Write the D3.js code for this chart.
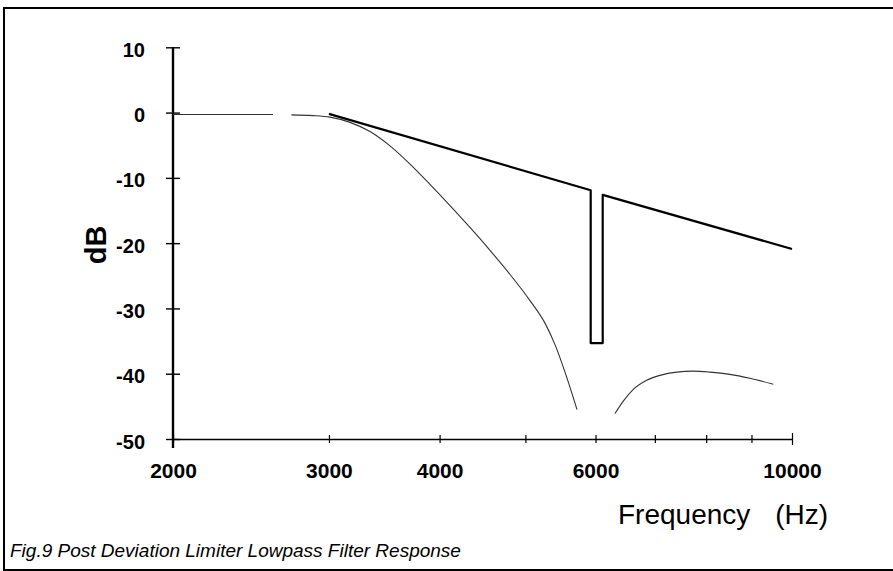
<!DOCTYPE html>
<html>
<head>
<meta charset="utf-8">
<script src="https://cdn.jsdelivr.net/npm/d3@7"></script>
<style>
body{margin:0;background:#fff;}
svg{display:block;font-family:'Liberation Sans',Arial,Helvetica,sans-serif;}
</style>
</head>
<body>
<div class="chart-container"></div>
<script>
//Data
const freqTicks = [2000,3000,4000,5000,6000,7000,8000,9000,10000];
const freqLabels = [2000,3000,4000,6000,10000];
const dbTicks = [10,0,-10,-20,-30,-40,-50];

//limiter + notch (heavy line)
const notchFreq = [3000,5925,5925,6113,6113,10000];
const notchDb = [-0.2,-11.9,-35.3,-35.3,-12.6,-20.9];

//lowpass response (thin line), null = break in the trace
const lpFreq = [2000,2594,null,2721,2878,3008,3169,3338,3516,3704,3901,4110,4329,4560,4804,5060,5261,5400,5542,5718,
                null,6311,6449,6619,6854,7095,7409,7736,8080,8511,8965,9525];
const lpDb = [-0.3,-0.3,null,-0.35,-0.46,-0.7,-1.5,-2.9,-5.1,-7.9,-11.0,-14.25,-17.6,-21.1,-24.8,-28.8,-32.25,-35.55,-39.75,-45.5,
              null,-46.1,-44.2,-42.4,-41.0,-40.25,-39.75,-39.6,-39.75,-40.1,-40.7,-41.6];

const svg_width = 893;
const svg_height = 571;

const svg = d3.select('.chart-container').append('svg')
  .attr('width',svg_width).attr('height',svg_height);

//frame (right edge falls outside the picture)
svg.append('rect')
  .attr('x',4).attr('y',8).attr('width',900).attr('height',562)
  .style('fill','none').style('stroke','#000').style('stroke-width',2);

//scales
const xScale = d3.scaleLog().domain([2000,10000]).range([173,792]);
const yScale = d3.scaleLinear().domain([-50,10]).range([439,47.3]);

//x axis
const xAxis = d3.axisBottom(xScale).tickValues(freqTicks)
  .tickFormat(d => freqLabels.includes(d) ? String(d) : '')
  .tickSizeInner(4).tickSizeOuter(0);
const xAxisDraw = svg.append('g').attr('class','x axis')
  .attr('transform',`translate(0,${yScale(-50)})`)
  .call(xAxis);
xAxisDraw.select('.domain').style('stroke-width',1.6);
xAxisDraw.selectAll('.tick line').attr('y1',-4).attr('y2',4).style('stroke-width',1.2);
xAxisDraw.selectAll('.tick').filter(d => d===10000).select('line').attr('y1',-6).attr('y2',6);
xAxisDraw.selectAll('text').attr('y',39).attr('dy',0)
  .style('font-size','21px').style('font-weight','bold')
  .style('font-family','inherit').style('fill','#000');

//y axis
const yAxis = d3.axisLeft(yScale).tickValues(dbTicks)
  .tickFormat(d => String(d))
  .tickSizeInner(6).tickSizeOuter(0);
const yAxisDraw = svg.append('g').attr('class','y axis')
  .attr('transform',`translate(${xScale(2000)},0)`)
  .call(yAxis);
yAxisDraw.select('.domain').remove();
yAxisDraw.append('line')
  .attr('y1',yScale(10)).attr('y2',yScale(-50)+9)
  .style('stroke','#000').style('stroke-width',2.4);
yAxisDraw.selectAll('.tick line').attr('x1',7).attr('x2',-7).style('stroke-width',1.4);
yAxisDraw.selectAll('text').attr('x',-28).attr('dy','0.45em')
  .style('font-size','20px').style('font-weight','bold')
  .style('font-family','inherit').style('fill','#000');

//axis titles
svg.append('text')
  .attr('transform',`translate(106,245) rotate(-90)`)
  .attr('text-anchor','middle')
  .style('font-size','29px').style('font-weight','bold')
  .text('dB');

const xTitle = svg.append('text').attr('y',524).style('font-size','28px');
xTitle.append('tspan').attr('x',618).text('Frequency');
xTitle.append('tspan').attr('x',828).attr('text-anchor','end').text('(Hz)');

//caption
svg.append('text')
  .attr('x',10).attr('y',557)
  .style('font-size','19px').style('font-style','italic')
  .text('Fig.9 Post Deviation Limiter Lowpass Filter Response');

//lines
const notchData = notchFreq.map((f,i) => ({f:f, db:notchDb[i]}));
const lpData = lpFreq.map((f,i) => ({f:f, db:lpDb[i]}));

const straight = d3.line()
  .x(d => xScale(d.f)).y(d => yScale(d.db));
const smooth = d3.line()
  .defined(d => d.f !== null)
  .x(d => xScale(d.f)).y(d => yScale(d.db))
  .curve(d3.curveMonotoneX);

svg.append('path').datum(lpData)
  .attr('d',smooth)
  .style('fill','none').style('stroke','#333').style('stroke-width',1.1);

svg.append('path').datum(notchData)
  .attr('d',straight)
  .style('fill','none').style('stroke','#000').style('stroke-width',2.2)
  .style('stroke-linejoin','round');
</script>
</body>
</html>
